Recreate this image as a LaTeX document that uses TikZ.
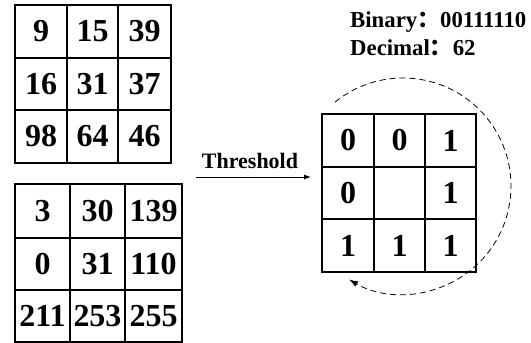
\documentclass[tikz,border=0pt]{standalone}
\usepackage{fontspec}
\setmainfont{Liberation Serif}
\newfontfamily\cjk{Noto Sans CJK SC}
\usetikzlibrary{arrows.meta}
\newcommand\cellat[6]{%
  \node[cell, minimum width={(#4-#2)*1pt}, minimum height={(#5-#3)*1pt}] (#1) at ({(#2+#4)/2},{-(#3+#5)/2}) {#6};}
\begin{document}
\begin{tikzpicture}[x=1pt,y=1pt,
  cell/.style={draw, line width=1.6pt, inner sep=0pt, outer sep=0pt,
    font=\fontsize{32}{32}\selectfont\bfseries},
  lbl/.style={inner sep=0pt, font=\fontsize{22}{22}\selectfont\bfseries},
  toplbl/.style={inner sep=0pt, font=\fontsize{22.8}{22.8}\selectfont\bfseries},
  conn/.style={line width=0.9pt, -{Latex[length=7pt,width=5pt]}},
  circ/.style={line width=0.8pt, dash pattern=on 6pt off 4pt, -{Latex[length=9pt,width=6pt]}}]
\useasboundingbox (0,0) rectangle (531,-343);
% grid 1
\cellat{a11}{15}{5}{67}{58}{9}
\cellat{a12}{67}{5}{118}{58}{15}
\cellat{a13}{118}{5}{171}{58}{39}
\cellat{a21}{15}{58}{67}{110}{16}
\cellat{a22}{67}{58}{118}{110}{31}
\cellat{a23}{118}{58}{171}{110}{37}
\cellat{a31}{15}{110}{67}{163}{98}
\cellat{a32}{67}{110}{118}{163}{64}
\cellat{a33}{118}{110}{171}{163}{46}
% grid 2
\cellat{b11}{15}{184}{70}{238}{3}
\cellat{b12}{70}{184}{125}{238}{30}
\cellat{b13}{125}{184}{182}{238}{139}
\cellat{b21}{15}{238}{70}{290}{0}
\cellat{b22}{70}{238}{125}{290}{31}
\cellat{b23}{125}{238}{182}{290}{110}
\cellat{b31}{15}{290}{70}{342}{211}
\cellat{b32}{70}{290}{125}{342}{253}
\cellat{b33}{125}{290}{182}{342}{255}
% grid 3
\cellat{c11}{322}{114}{374}{167}{0}
\cellat{c12}{374}{114}{425}{167}{0}
\cellat{c13}{425}{114}{476}{167}{1}
\cellat{c21}{322}{167}{374}{219}{0}
\cellat{c22}{374}{167}{425}{219}{}
\cellat{c23}{425}{167}{476}{219}{1}
\cellat{c31}{322}{219}{374}{272}{1}
\cellat{c32}{374}{219}{425}{272}{1}
\cellat{c33}{425}{219}{476}{272}{1}
% threshold arrow
\coordinate (t0) at (196,-177);
\coordinate (t1) at (311,-177);
\draw[conn] (t0) -- (t1);
\node[lbl, anchor=base] (thr) at (250,-168) {Threshold};
% labels
\node[toplbl, anchor=base west] (bin) at (350,-27) {Binary{\cjk ：}00111110};
\node[toplbl, anchor=base west] (dec) at (350,-55) {Decimal{\cjk ：}62};
% dashed circular arrow
\coordinate (cc) at (403,-186);
\draw[circ] ([shift={(129:108)}]cc) arc[start angle=129, end angle=-120, radius=108];
\end{tikzpicture}
\end{document}
